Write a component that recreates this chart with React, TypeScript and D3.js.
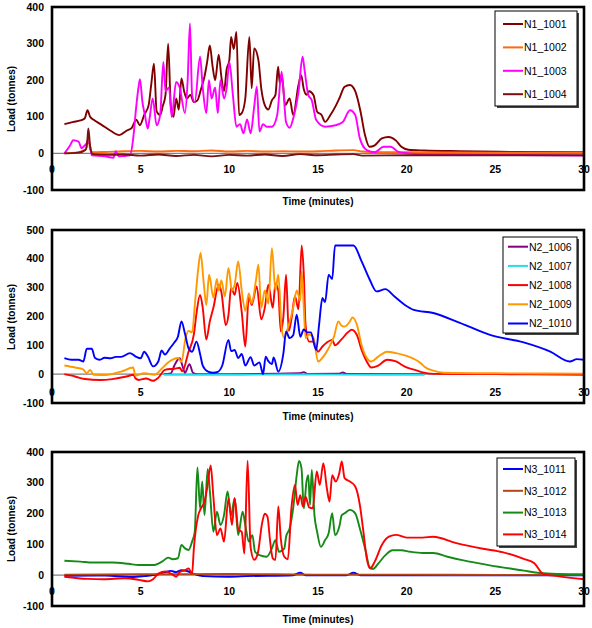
import React from 'react';
import * as d3 from 'd3';

type Pt = [number, number];

// axis ticks
const timeTicks = [0, 5, 10, 15, 20, 25, 30];
const loadTicksA = [-100, 0, 100, 200, 300, 400];
const loadTicksB = [-100, 0, 100, 200, 300, 400, 500];

// ---- group N1 (time in minutes, load in tonnes) ----
const n1_1001: Pt[] = [[0.7,80],[1.2,86],[1.6,90],[1.85,96],[2.0,118],[2.15,100],[2.35,92],[2.8,78],[3.3,62],[3.8,50],[4.2,62],[4.5,70],[4.75,92],[4.95,77],[5.2,105],[5.45,132],[5.6,190],[5.75,245],[5.9,115],[6.1,105],[6.25,130],[6.4,160],[6.55,300],[6.7,130],[6.85,100],[7.0,150],[7.15,120],[7.3,205],[7.45,170],[7.6,150],[7.8,160],[8.0,140],[8.2,145],[8.4,175],[8.6,210],[8.75,250],[8.9,295],[9.05,240],[9.2,200],[9.4,270],[9.55,210],[9.7,170],[9.85,230],[10.0,255],[10.1,318],[10.25,285],[10.4,332],[10.55,105],[10.7,110],[10.9,150],[11.13,318],[11.26,178],[11.4,287],[11.64,255],[11.8,178],[12.0,132],[12.2,120],[12.4,145],[12.6,160],[12.75,237],[12.85,190],[12.95,215],[13.15,132],[13.4,150],[13.6,105],[13.9,187],[14.05,214],[14.2,175],[14.35,160],[14.5,170],[14.75,159],[14.95,114],[15.2,105],[15.4,86],[15.7,105],[16.0,130],[16.2,150],[16.5,182],[16.8,187],[17.1,170],[17.4,114],[17.65,50],[17.9,18],[18.2,22],[18.6,41],[18.97,45],[19.4,35],[19.7,18],[20.1,10],[21,8],[23,6],[26,4],[30,3]];
const n1_1002: Pt[] = [[0.7,0],[1.3,2],[1.8,8],[1.95,15],[2.05,45],[2.15,12],[2.3,3],[3,4],[4,6],[5,7],[6,5],[7,7],[8,6],[9,8],[10,5],[11,7],[12,5],[13,6],[14,5],[15,6],[16,8],[17,9],[17.5,5],[18,4],[20,3],[25,2],[30,2]];
const n1_1003: Pt[] = [[0.7,0],[1.0,20],[1.2,36],[1.5,32],[1.67,14],[1.85,22],[1.95,27],[2.1,30],[2.24,-5],[3.0,-8],[3.46,-12],[3.6,6],[3.75,-8],[4.4,-5],[4.58,41],[4.74,123],[4.87,178],[4.96,203],[5.1,140],[5.24,105],[5.4,68],[5.5,95],[5.68,150],[5.9,77],[6.1,105],[6.28,250],[6.4,170],[6.6,180],[6.75,100],[7.0,195],[7.2,180],[7.5,110],[7.65,200],[7.78,355],[7.9,160],[8.05,140],[8.35,264],[8.5,180],[8.7,110],[8.85,200],[9.0,150],[9.2,180],[9.35,110],[9.5,200],[9.7,150],[9.85,180],[10.0,250],[10.2,160],[10.4,73],[10.6,80],[10.8,55],[11.0,93],[11.2,55],[11.4,127],[11.55,182],[11.7,60],[11.9,80],[12.1,73],[12.4,73],[12.7,105],[12.95,223],[13.2,85],[13.4,70],[13.6,95],[13.9,168],[14.13,264],[14.25,225],[14.45,160],[14.65,145],[14.9,91],[15.4,73],[16.0,77],[16.4,86],[16.8,118],[17.1,105],[17.36,41],[17.75,9],[18.2,3],[18.7,18],[19.1,18],[19.5,5],[19.9,1],[21,-3],[25,-4],[30,-6]];
const n1_1004: Pt[] = [[0.7,0],[1.5,2],[1.9,10],[2.0,40],[2.05,68],[2.15,20],[2.3,-2],[3,-4],[4,-3],[5,-6],[6,-3],[7,-7],[8,-4],[9,-8],[10,-4],[11,-6],[12,-3],[13,-7],[14,-2],[15,-5],[16,-3],[17,-2],[17.5,-6],[20,-5],[25,-5],[30,-5]];

// ---- group N2 ----
const n2_1006: Pt[] = [[6.3,0],[6.7,3],[6.9,30],[7.2,55],[7.35,30],[7.5,5],[7.75,35],[7.95,5],[8.2,0],[10,0],[14,3],[14.2,7],[14.4,1],[16.2,2],[16.4,6],[16.6,1],[21,0]];
const n2_1007: Pt[] = [[6.3,-2],[10,-2],[14,-1],[18,-2],[21,-2]];
const n2_1008: Pt[] = [[0.7,0],[1.3,-8],[1.86,-17],[2.7,-20],[3.4,-17],[4.2,-8],[4.6,-2],[4.7,-14],[4.9,-20],[5.3,-15],[5.7,-23],[6.0,-12],[6.37,15],[6.9,19],[7.2,22],[7.35,10],[7.7,78],[8.0,138],[8.15,212],[8.35,275],[8.5,230],[8.7,120],[8.9,183],[9.1,230],[9.4,310],[9.55,285],[9.8,170],[9.95,205],[10.1,300],[10.3,275],[10.45,316],[10.7,215],[10.9,96],[11.1,270],[11.26,240],[11.54,304],[11.8,190],[12.0,230],[12.2,310],[12.45,230],[12.6,315],[12.76,290],[12.9,148],[13.05,200],[13.2,345],[13.35,150],[13.5,190],[13.7,270],[13.9,225],[14.08,446],[14.2,345],[14.3,170],[14.5,113],[14.75,113],[15.0,78],[15.25,96],[15.5,110],[15.8,119],[15.96,100],[16.3,119],[16.7,146],[16.9,154],[17.2,135],[17.46,84],[17.75,44],[18.0,23],[18.4,30],[18.9,50],[19.4,44],[19.9,26],[20.5,14],[20.9,6],[21.5,1],[25,0],[30,-2]];
const n2_1009: Pt[] = [[0.7,30],[1.3,23],[1.75,17],[1.96,3],[2.15,15],[2.35,-2],[3.0,-3],[3.9,9],[4.58,23],[4.7,-5],[5.2,3],[5.8,-2],[6.2,20],[6.6,43],[7.1,56],[7.3,43],[7.53,125],[7.7,150],[7.9,145],[8.07,252],[8.25,368],[8.38,420],[8.55,320],[8.7,240],[8.86,345],[9.1,265],[9.3,330],[9.4,290],[9.55,325],[9.75,270],[9.95,368],[10.15,290],[10.3,310],[10.5,391],[10.7,290],[10.9,220],[11.1,280],[11.26,245],[11.5,325],[11.64,380],[11.8,230],[12.0,290],[12.2,245],[12.4,437],[12.6,290],[12.76,345],[12.95,160],[13.1,125],[13.3,160],[13.6,230],[13.8,290],[14.0,255],[14.08,356],[14.2,230],[14.3,125],[14.5,137],[14.75,125],[15.0,44],[15.3,61],[15.6,90],[15.9,130],[16.15,183],[16.3,170],[16.5,165],[16.8,183],[16.94,197],[17.2,170],[17.46,100],[17.75,56],[18.0,44],[18.4,61],[18.9,78],[19.4,73],[19.9,65],[20.5,50],[20.8,38],[21.0,26],[21.5,12],[22.1,5],[25,3],[30,2]];
const n2_1010: Pt[] = [[0.7,56],[1.1,50],[1.5,50],[1.77,44],[1.96,88],[2.24,88],[2.43,56],[2.7,50],[2.96,57],[3.3,55],[3.6,60],[3.9,60],[4.4,73],[4.7,62],[5.0,55],[5.2,78],[5.4,62],[5.7,27],[6.0,45],[6.18,82],[6.37,68],[6.65,90],[6.9,110],[7.1,130],[7.3,183],[7.5,140],[7.7,90],[7.9,78],[8.15,113],[8.35,70],[8.5,30],[8.8,9],[9.1,5],[9.35,8],[9.6,30],[9.95,119],[10.1,80],[10.3,84],[10.5,56],[10.7,70],[10.9,30],[11.2,59],[11.4,30],[11.7,41],[11.9,0],[12.05,61],[12.2,45],[12.4,35],[12.5,58],[12.76,9],[13.05,73],[13.2,148],[13.4,125],[13.6,135],[13.8,206],[14.0,130],[14.2,155],[14.4,145],[14.6,145],[14.8,100],[14.9,84],[15.06,171],[15.25,264],[15.4,250],[15.6,345],[15.8,330],[15.96,446],[17.0,446],[17.46,391],[17.9,330],[18.3,287],[18.8,295],[19.3,270],[19.9,240],[20.4,223],[21.5,212],[23,178],[24.7,136],[26.6,110],[28.1,78],[29.2,44],[29.6,52],[30,50]];

// ---- group N3 ----
const n3_1011: Pt[] = [[0.7,-2],[3,-1],[4.5,-6],[5.2,-3],[6.0,3],[6.7,14],[7.0,10],[7.3,16],[7.7,12],[8.0,4],[8.5,-3],[10,-5],[11,-3],[13.6,0],[14.0,8],[14.3,0],[16.6,0],[17.0,8],[17.4,0],[20,0],[30,0]];
const n3_1012: Pt[] = [[0.7,2],[5,3],[10,4],[15,2],[20,2],[25,1],[30,1]];
const n3_1013: Pt[] = [[0.7,47],[1.6,44],[2.3,41],[3.4,41],[4.3,37],[4.9,33],[5.7,33],[6.2,44],[6.56,57],[6.8,52],[7.1,55],[7.3,98],[7.5,87],[7.7,82],[7.9,109],[8.05,141],[8.2,350],[8.35,217],[8.47,304],[8.6,195],[8.78,345],[8.9,275],[9.1,141],[9.3,206],[9.5,163],[9.7,195],[9.9,272],[10.1,195],[10.3,250],[10.5,130],[10.75,206],[10.9,163],[11.1,109],[11.3,130],[11.45,76],[11.7,65],[12.1,60],[12.4,87],[12.6,114],[12.8,76],[13.1,87],[13.2,125],[13.4,152],[13.6,217],[13.8,325],[13.93,371],[14.07,347],[14.2,217],[14.35,304],[14.45,325],[14.55,228],[14.65,342],[14.8,195],[14.95,141],[15.16,92],[15.4,114],[15.6,136],[15.8,201],[15.96,130],[16.2,157],[16.34,195],[16.5,201],[16.8,212],[17.1,201],[17.36,152],[17.7,76],[17.9,27],[18.1,20],[18.4,38],[18.8,65],[19.2,81],[19.7,81],[20.2,76],[20.9,72],[21.5,72],[22.3,60],[23.2,48],[24.7,32],[26.6,15],[27.5,7],[28.5,4],[30,3]];
const n3_1014: Pt[] = [[0.7,-5],[2.0,-12],[2.9,-13],[4.1,-10],[4.9,-15],[5.4,-20],[5.7,-13],[6.0,5],[6.4,12],[6.8,2],[7.0,-5],[7.2,10],[7.5,16],[7.7,22],[7.9,5],[8.0,87],[8.25,195],[8.4,217],[8.6,239],[8.75,283],[8.95,356],[9.1,255],[9.3,130],[9.5,152],[9.7,109],[9.95,250],[10.15,163],[10.3,250],[10.5,150],[10.7,140],[10.85,70],[11.03,372],[11.2,90],[11.4,50],[11.6,70],[11.85,170],[12.0,200],[12.15,190],[12.3,110],[12.45,55],[12.6,50],[12.76,223],[12.9,120],[13.1,60],[13.3,52],[13.5,217],[13.7,293],[13.85,228],[14.0,260],[14.15,223],[14.3,255],[14.5,220],[14.7,217],[14.93,337],[15.1,293],[15.3,364],[15.5,282],[15.65,239],[15.8,325],[16.0,304],[16.2,331],[16.34,369],[16.5,315],[16.8,304],[17.1,288],[17.36,228],[17.55,146],[17.75,54],[17.94,22],[18.2,44],[18.6,98],[19.0,125],[19.4,131],[20.0,122],[20.9,122],[21.5,125],[22.8,104],[24.3,86],[25.4,75],[26.6,53],[27.2,39],[27.7,4],[28.5,-3],[30,-13]];

const names1 = ['N1_1001', 'N1_1002', 'N1_1003', 'N1_1004'];
const names2 = ['N2_1006', 'N2_1007', 'N2_1008', 'N2_1009', 'N2_1010'];
const names3 = ['N3_1011', 'N3_1012', 'N3_1013', 'N3_1014'];

const FONT = '"Liberation Sans", Arial, sans-serif';
const X0 = 52;
const X1 = 584;

interface LegendBox { x: number; y: number; w: number; h: number; row0: number; step: number; lineX: number; textX: number }
interface PanelDef {
  names: string[];
  series: Pt[][];
  colors: string[];
  top: number;
  bottom: number;
  ticks: number[];
  tickBase: number;
  titleBase: number;
  yTitleMid: number;
  legend: LegendBox;
}

const panels: PanelDef[] = [
  {
    names: names1,
    series: [n1_1001, n1_1002, n1_1003, n1_1004],
    colors: ['#800000', '#FF6A10', '#FF00FF', '#7A1010'],
    top: 7, bottom: 190, ticks: loadTicksA, tickBase: 172.5, titleBase: 205, yTitleMid: 99,
    legend: { x: 495, y: 11, w: 82, h: 95, row0: 24, step: 23.4, lineX: 503, textX: 524 },
  },
  {
    names: names2,
    series: [n2_1006, n2_1007, n2_1008, n2_1009, n2_1010],
    colors: ['#800080', '#22DDEE', '#FF0000', '#FF9900', '#0000FF'],
    top: 230, bottom: 403, ticks: loadTicksB, tickBase: 395.5, titleBase: 420, yTitleMid: 317,
    legend: { x: 503, y: 237, w: 74, h: 96, row0: 246.7, step: 19.2, lineX: 508, textX: 529 },
  },
  {
    names: names3,
    series: [n3_1011, n3_1012, n3_1013, n3_1014],
    colors: ['#0000FF', '#B5451B', '#168A16', '#FF0000'],
    top: 452, bottom: 606, ticks: loadTicksA, tickBase: 594.5, titleBase: 623, yTitleMid: 529,
    legend: { x: 497, y: 458, w: 78, h: 88, row0: 469, step: 21.8, lineX: 503, textX: 524 },
  },
];

function Panel({ p, idx }: { p: PanelDef; idx: number }) {
  const x = d3.scaleLinear().domain([0, 30]).range([X0, X1]);
  const y = d3.scaleLinear().domain([p.ticks[0], p.ticks[p.ticks.length - 1]]).range([p.bottom, p.top]);
  const line = d3.line<Pt>().x(d => x(d[0])).y(d => y(d[1])).curve(d3.curveMonotoneX);
  const clipId = `plot-clip-${idx}`;
  const lg = p.legend;
  return (
    <g>
      <defs>
        <clipPath id={clipId}>
          <rect x={X0} y={p.top} width={X1 - X0} height={p.bottom - p.top} />
        </clipPath>
      </defs>
      {/* zero line */}
      <line x1={X0} x2={X1} y1={y(0)} y2={y(0)} stroke="#808080" strokeWidth={1.2} />
      <g clipPath={`url(#${clipId})`}>
        {p.series.map((s, i) => (
          <path key={i} d={line(s) || ''} fill="none" stroke={p.colors[i]} strokeWidth={1.9} strokeLinejoin="round" />
        ))}
      </g>
      {/* y tick labels */}
      {p.ticks.map(t => (
        <text key={t} x={44} y={y(t) + 3.6} textAnchor="end" fontFamily={FONT} fontWeight="bold" fontSize={10.5}>{t}</text>
      ))}
      {/* x tick labels sit just under the zero line */}
      {timeTicks.map(t => (
        <text key={t} x={x(t)} y={p.tickBase} textAnchor="middle" fontFamily={FONT} fontWeight="bold" fontSize={10.5}>{t}</text>
      ))}
      <rect x={X0} y={p.top} width={X1 - X0} height={p.bottom - p.top} fill="none" stroke="#000" strokeWidth={2.6} />
      <text x={(X0 + X1) / 2} y={p.titleBase} textAnchor="middle" fontFamily={FONT} fontWeight="bold" fontSize={10}>Time (minutes)</text>
      <text transform={`translate(15,${p.yTitleMid}) rotate(-90)`} textAnchor="middle" fontFamily={FONT} fontWeight="bold" fontSize={10}>Load (tonnes)</text>
      {/* legend */}
      <rect x={lg.x + 2} y={lg.y + 2} width={lg.w} height={lg.h} fill="#444" />
      <rect x={lg.x} y={lg.y} width={lg.w} height={lg.h} fill="#fff" stroke="#000" strokeWidth={1} />
      {p.names.map((n, i) => {
        const ly = lg.row0 + i * lg.step;
        return (
          <g key={n}>
            <line x1={lg.lineX} x2={lg.lineX + 20} y1={ly} y2={ly} stroke={p.colors[i]} strokeWidth={2} />
            <text x={lg.textX} y={ly + 3.8} fontFamily={FONT} fontSize={10.5}>{n}</text>
          </g>
        );
      })}
    </g>
  );
}

export default function App() {
  return (
    <svg width={592} height={628} style={{ position: 'absolute', left: 0, top: 0, background: '#fff' }}>
      <rect width={592} height={628} fill="#fff" />
      {panels.map((p, i) => <Panel key={i} p={p} idx={i} />)}
    </svg>
  );
}
